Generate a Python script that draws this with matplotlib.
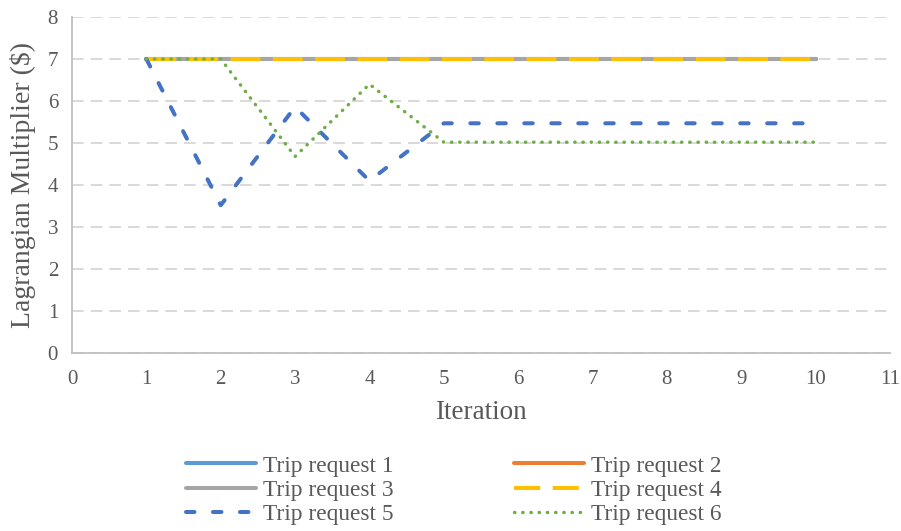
import matplotlib.pyplot as plt
from matplotlib.lines import Line2D

plt.rcParams['font.family'] = ['Liberation Serif', 'DejaVu Serif']

iterations = [1, 2, 3, 4, 5, 6, 7, 8, 9, 10]
trip1 = [7, 7, 7, 7, 7, 7, 7, 7, 7, 7]
trip2 = [7, 7, 7, 7, 7, 7, 7, 7, 7, 7]
trip3 = [7, 7, 7, 7, 7, 7, 7, 7, 7, 7]
trip4 = [7, 7, 7, 7, 7, 7, 7, 7, 7, 7]
trip5 = [7, 3.52, 5.86, 4.1, 5.47, 5.47, 5.47, 5.47, 5.47, 5.47]
trip6 = [7, 7, 4.68, 6.4, 5.02, 5.02, 5.02, 5.02, 5.02, 5.02]
labels = ['Trip request 1', 'Trip request 2', 'Trip request 3',
          'Trip request 4', 'Trip request 5', 'Trip request 6']

text_color = '#595959'
c1, c2, c3, c4, c5, c6 = '#5B9BD5', '#ED7D31', '#A5A5A5', '#FFC000', '#4472C4', '#70AD47'

fig = plt.figure(figsize=(9.01, 5.31), dpi=100)
ax = fig.add_axes([0.0799, 0.335, 0.9079, 0.633])

lw = 2.9
ax.plot(iterations, trip1, color=c1, lw=lw, solid_capstyle='round')
ax.plot(iterations, trip2, color=c2, lw=lw, solid_capstyle='round')
ax.plot(iterations, trip3, color=c3, lw=lw, solid_capstyle='round')
ax.plot(iterations, trip4, color=c4, lw=lw, dashes=(7.4, 3.1))
ax.plot(iterations, trip5, color=c5, lw=lw, dashes=(2.1, 4.6), dash_capstyle='round')
ax.plot(iterations, trip6, color=c6, lw=lw * 0.85, dashes=(0.1, 2.3), dash_capstyle='round')

ax.set_xlim(0, 11)
ax.set_ylim(0, 8)
ax.set_xticks(range(0, 12))
ax.set_yticks(range(0, 9))
ax.tick_params(length=0, labelsize=15, labelcolor=text_color)
ax.tick_params(axis='x', pad=12)
ax.tick_params(axis='y', pad=10)
ax.yaxis.grid(True, color='#D9D9D9', lw=1.4, dashes=(6, 3.6))
ax.set_axisbelow(True)
for s in ['top', 'right']:
    ax.spines[s].set_visible(False)
for s in ['left', 'bottom']:
    ax.spines[s].set_color('#BFBFBF')
    ax.spines[s].set_linewidth(1.3)

ax.set_xlabel('Iteration', fontsize=19.5, color=text_color, labelpad=8)
ax.set_ylabel('Lagrangian Multiplier ($)', fontsize=20, color=text_color, labelpad=8)

# legend key samples, listed column by column so rows read 1-2, 3-4, 5-6
handles = [
    Line2D([], [], color=c1, lw=lw, solid_capstyle='round'),
    Line2D([], [], color=c3, lw=lw, solid_capstyle='round'),
    Line2D([], [], color=c5, lw=lw, dashes=(2.1, 4.6), dash_capstyle='round'),
    Line2D([], [], color=c2, lw=lw, solid_capstyle='round'),
    Line2D([], [], color=c4, lw=lw, dashes=(6.5, 3.1)),
    Line2D([], [], color=c6, lw=lw * 0.85, dashes=(0.1, 2.3), dash_capstyle='round'),
]
names = [labels[0], labels[2], labels[4], labels[1], labels[3], labels[5]]
leg = fig.legend(handles, names, loc='center', bbox_to_anchor=(0.504, 0.077), ncol=2,
                 frameon=False, fontsize=16.8, handlelength=3.0,
                 handletextpad=0.3, columnspacing=5.15, labelspacing=0.12,
                 borderpad=0, borderaxespad=0)
for t in leg.get_texts():
    t.set_color(text_color)

fig.savefig('out.png', dpi=100, facecolor='white')
